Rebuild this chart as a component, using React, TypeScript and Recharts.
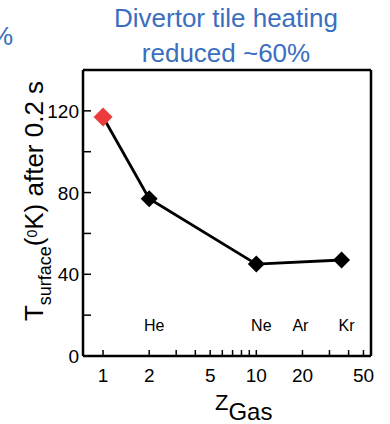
import React from 'react';
import { LineChart, Line, XAxis, YAxis, ReferenceLine, ReferenceDot } from 'recharts';

const zGas = [1, 2, 10, 36];
const tSurface = [117, 77, 45, 47];
const xTicks = [1, 2, 3, 4, 5, 6, 7, 8, 9, 10, 20, 30, 40, 50];
const xLabelled = [1, 2, 5, 10, 20, 50];
const yTicks = [0, 20, 40, 60, 80, 100, 120];
const yLabelled = [0, 40, 80, 120];
const gasNames = ['He', 'Ne', 'Ar', 'Kr'];
const gasZ = [2, 10, 18, 36];
const titleLines = ['Divertor tile heating', 'reduced ~60%'];

const data = zGas.map((z, i) => ({ z, t: tSurface[i] }));

const FONT = '"Liberation Sans", Arial, sans-serif';
const BLUE = '#3a6fbf';

const XTick = (props: any) => {
  const { x, y, payload } = props;
  const v = payload.value;
  return (
    <g>
      <line x1={x} x2={x} y1={y} y2={y - 6} stroke="#000" strokeWidth={1.5} />
      {xLabelled.includes(v) && (
        <text x={x} y={y + 26} textAnchor="middle" fontSize={19} fontFamily={FONT} fill="#000">
          {v}
        </text>
      )}
    </g>
  );
};

const YTick = (props: any) => {
  const { x, y, payload } = props;
  const v = payload.value;
  return (
    <g>
      <line x1={x} x2={x + 8} y1={y} y2={y} stroke="#000" strokeWidth={1.5} />
      {yLabelled.includes(v) && (
        <text x={x - 4} y={y + 7} textAnchor="end" fontSize={19} fontFamily={FONT} fill="#000">
          {v}
        </text>
      )}
    </g>
  );
};

const Diamond = (props: any) => {
  const { cx, cy, index } = props;
  if (cx == null || cy == null) return null;
  const r = index === 0 ? 9.5 : 8.5;
  const fill = index === 0 ? '#ec3b3b' : '#000';
  return (
    <polygon
      key={`d${index}`}
      points={`${cx},${cy - r} ${cx + r},${cy} ${cx},${cy + r} ${cx - r},${cy}`}
      fill={fill}
    />
  );
};

const GasLabel = (name: string) => (props: any) => {
  const { cx, cy } = props;
  return (
    <text x={cx + 5} y={cy + 6} textAnchor="middle" fontSize={16} fontFamily={FONT} fill="#000">
      {name}
    </text>
  );
};

export default function App() {
  return (
    <div style={{ position: 'absolute', left: 0, top: 0, width: 390, height: 424, background: '#fff' }}>
      <LineChart
        width={390}
        height={424}
        data={data}
        margin={{ top: 70, right: 19, bottom: 67, left: 82 }}
      >
        <XAxis
          dataKey="z"
          type="number"
          scale="log"
          domain={[0.74, 56]}
          allowDataOverflow
          ticks={xTicks}
          interval={0}
          tick={<XTick />}
          tickLine={false}
          tickSize={0}
          tickMargin={0}
          height={1}
          axisLine={{ stroke: '#000', strokeWidth: 2.5 }}
        />
        <YAxis
          type="number"
          domain={[0, 140]}
          allowDataOverflow
          ticks={yTicks}
          interval={0}
          tick={<YTick />}
          tickLine={false}
          tickSize={0}
          tickMargin={0}
          width={1}
          axisLine={{ stroke: '#000', strokeWidth: 2.5 }}
        />
        <ReferenceLine y={140} stroke="#000" strokeWidth={2.5} />
        <ReferenceLine x={56} stroke="#000" strokeWidth={2.5} />
        {gasNames.map((n, i) => (
          <ReferenceDot key={n} x={gasZ[i]} y={15} r={0} shape={GasLabel(n)} />
        ))}
        <Line
          dataKey="t"
          stroke="none"
          dot={(p: any) => <Diamond {...p} />}
          activeDot={false}
          isAnimationActive={false}
        />
        <Line
          dataKey="t"
          stroke="#000"
          strokeWidth={2.8}
          dot={false}
          activeDot={false}
          isAnimationActive={false}
        />
      </LineChart>
      <svg
        width={390}
        height={424}
        style={{ position: 'absolute', left: 0, top: 0, pointerEvents: 'none' }}
      >
        <text x={13} y={45} textAnchor="end" fontSize={26} fontFamily={FONT} fill={BLUE}>
          {titleLines[1]}
        </text>
        <text x={226} y={27} textAnchor="middle" fontSize={26} fontFamily={FONT} fill={BLUE}>
          {titleLines[0]}
        </text>
        <text x={226} y={62} textAnchor="middle" fontSize={26} fontFamily={FONT} fill={BLUE}>
          {titleLines[1]}
        </text>
        <text
          x={0}
          y={0}
          transform="translate(43,201) rotate(-90)"
          textAnchor="middle"
          fontSize={26}
          fontFamily={FONT}
          fill="#000"
        >
          T
          <tspan fontSize={18} dy={8}>surface</tspan>
          <tspan dy={-8}>(</tspan>
          <tspan fontSize={14} dy={-6}>0</tspan>
          <tspan dy={6}>K) after 0.2 s</tspan>
        </text>
        <text x={215} y={410} fontSize={22} fontFamily={FONT} fill="#000">
          Z
          <tspan fontSize={24} dy={10}>Gas</tspan>
        </text>
      </svg>
    </div>
  );
}
